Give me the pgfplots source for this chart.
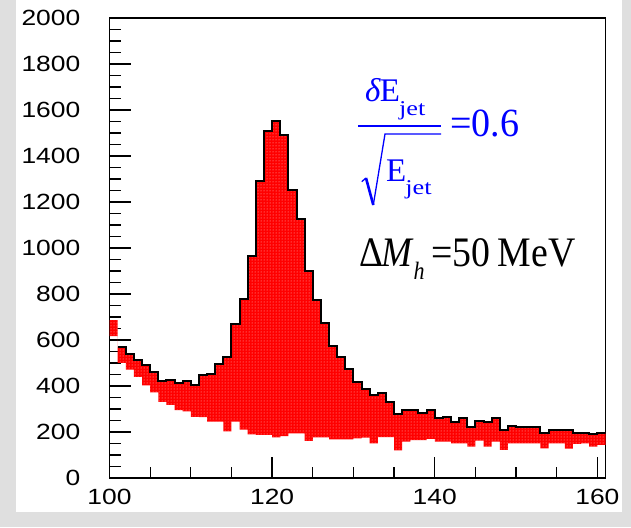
\documentclass[border=0pt]{standalone}
\usepackage{fontspec}
\setmainfont{Liberation Sans}
\newfontfamily\serif{Liberation Serif}
\usepackage{pgfplots}
\usepackage{pgfplotstable}
\pgfplotsset{compat=1.18}
\usepgfplotslibrary{fillbetween}
\usetikzlibrary{patterns}

\pgfplotstableread{
x top bot
100 686 617
101 570 501
102 540 471
103 514 440
104 490 403
105 462 372
106 421 331
107 427 318
108 415 295
109 423 290
110 403 266
111 447 265
112 452 245
113 494 245
114 527 203
115 670 245
116 780 210
117 965 190
118 1290 188
119 1510 187
120 1553 177
121 1490 182
122 1254 194
123 1128 194
124 900 161
125 773 177
126 675 177
127 573 168
128 525 168
129 474 168
130 418 172
131 389 175
132 360 151
133 370 178
134 331 178
135 280 120
136 296 158
137 295 165
138 282 165
139 295 170
140 263 158
141 265 158
142 245 151
143 260 151
144 222 136
145 249 162
146 245 136
147 260 158
148 208 122
149 224 151
150 220 151
151 223 151
152 220 151
153 194 129
154 208 151
155 210 151
156 210 128
157 197 148
158 197 151
159 191 136
160 197 144
161 197 144
}\hist

\begin{document}
\begin{tikzpicture}[x=1pt,y=1pt]
% grey border strips (no overlap with the plot area)
\fill[gray!25] (0,0) rectangle (16,527);
\fill[gray!25] (0,0) rectangle (631,15);
\fill[gray!25] (622,0) rectangle (631,527);
\begin{axis}[at={(109.5pt,49pt)}, anchor=south west,
  width=496pt, height=460pt, scale only axis,
  xmin=100, xmax=161, ymin=0, ymax=2000,
  xtick={100,120,140,160}, ytick={0,200,...,2000},
  minor x tick num=3, minor y tick num=3,
  tick pos=left, tick align=inside,
  major tick length=21pt, minor tick length=11pt,
  every tick/.style={black, line width=1.3pt},
  axis line style={line width=1.6pt},
  /pgf/number format/assume math mode=true,
  /pgf/number format/1000 sep={},
  tick label style={font=\fontsize{22}{22}\selectfont, inner sep=0pt},
  yticklabel style={anchor=east, xshift=-29pt, xscale=1.2},
  xticklabel style={anchor=north, yshift=-11pt, xscale=1.2},
]
\addplot[name path=top, draw=none, const plot] table[x=x, y=top] {\hist};
\addplot[name path=bot, draw=none, const plot] table[x=x, y=bot] {\hist};
\addplot[fill=red, draw=none, postaction={pattern=dots, pattern color=red!25!white}] fill between[of=top and bot];
\addplot[black, line width=2pt, const plot, restrict x to domain=101:161] table[x=x, y=top] {\hist};
\end{axis}
% annotation: delta E_jet / sqrt(E_jet) = 0.6
\node[blue, anchor=base west, inner sep=0pt, font=\serif\fontsize{33}{33}\selectfont]
  at (365,425) {\textit{δ}\kern-1pt E\kern-1pt\raisebox{-14pt}{\scalebox{1.25}[1]{\fontsize{21}{21}\selectfont jet}}};
\draw[blue, line width=2pt] (358,400.7) -- (441,400.7);
\draw[blue, line width=1.3pt, line join=round] (361.7,345.3) -- (366,349);
\draw[blue, line width=2.6pt] (366,349) -- (373.3,322);
\draw[blue, line width=1.3pt, line join=miter] (373.3,322) -- (385,393) -- (441,393);
\node[blue, anchor=base west, inner sep=0pt, font=\serif\fontsize{33}{33}\selectfont]
  at (386,345.3) {E\kern-1pt\raisebox{-13pt}{\scalebox{1.25}[1]{\fontsize{21}{21}\selectfont jet}}};
\node[blue, anchor=base west, inner sep=0pt, font=\serif\fontsize{40}{40}\selectfont, xscale=0.95]
  at (450,390) {=0.6};
% Delta M_h = 50 MeV
\node[black, anchor=base west, inner sep=0pt, font=\serif\fontsize{42}{42}\selectfont, xscale=0.88]
  at (359,260) {Δ\kern-2pt\textit{M}\raisebox{-13pt}{\fontsize{25}{25}\selectfont\itshape h}};
\node[black, anchor=base west, inner sep=0pt, font=\serif\fontsize{42}{42}\selectfont, xscale=0.9]
  at (431,260) {=50\kern-2pt\ MeV};
\end{tikzpicture}
\end{document}
